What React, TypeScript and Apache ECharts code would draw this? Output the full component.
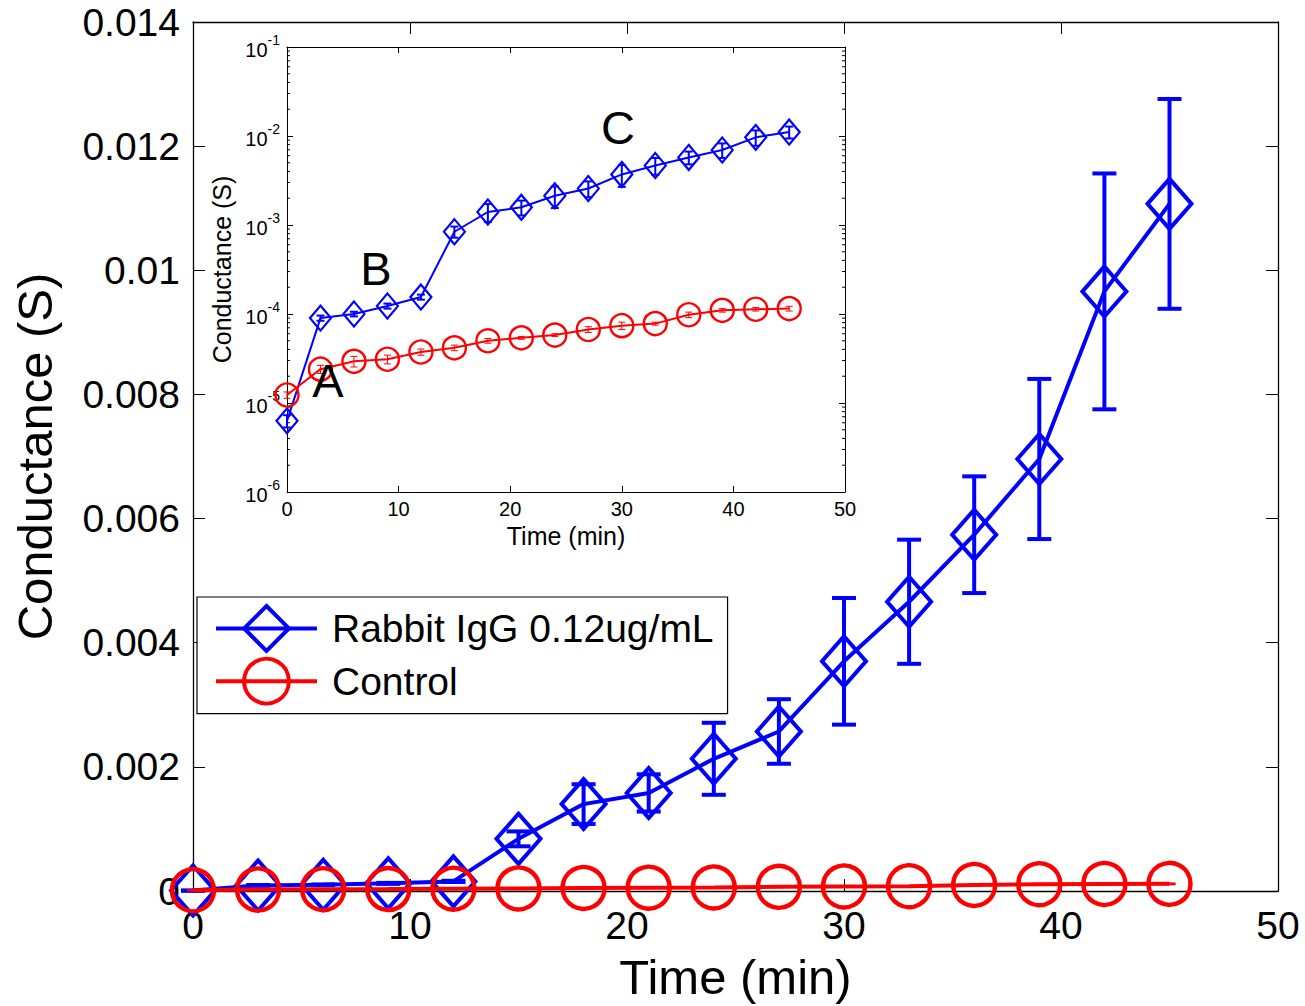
import React, { useEffect, useRef } from "react";
import * as echarts from "echarts";

const FONT = "'Liberation Sans', Arial, Helvetica, sans-serif";

// time points (min)
const times = [0, 3, 6, 9, 12, 15, 18, 21, 24, 27, 30, 33, 36, 39, 42, 45];
// Rabbit IgG 0.12ug/mL conductance (S) and error
const igg = [0.0000063, 0.00009, 0.0001, 0.000123, 0.000155, 0.00084, 0.0014, 0.00158, 0.00213, 0.00257, 0.0037, 0.00466, 0.00574, 0.00696, 0.00966, 0.01107];
const iggErr = [0.000001, 0.000006, 0.000006, 0.000008, 0.00001, 0.00012, 0.00032, 0.0003, 0.00058, 0.00052, 0.00102, 0.001, 0.00094, 0.00129, 0.0019, 0.00169];
// Control conductance (S) and error
const control = [0.0000123, 0.000024, 0.0000294, 0.000031, 0.0000374, 0.0000417, 0.00005, 0.000054, 0.000058, 0.000067, 0.000074, 0.000078, 0.000098, 0.00011, 0.000113, 0.000115];
const controlErr = [0.000001, 0.0000025, 0.000004, 0.0000035, 0.000003, 0.000003, 0.000003, 0.000002, 0.000002, 0.000005, 0.000007, 0.000003, 0.000007, 0.000005, 0.000005, 0.000007];

const seriesNames = ["Rabbit IgG 0.12ug/mL", "Control"];
const mainYLabels = ["0", "0.002", "0.004", "0.006", "0.008", "0.01", "0.012", "0.014"];
const mainXLabels = ["0", "10", "20", "30", "40", "50"];
const insetXLabels = ["0", "10", "20", "30", "40", "50"];
const insetYExponents = ["-6", "-5", "-4", "-3", "-2", "-1"];
const insetMinorMultipliers = [2, 3, 4, 5, 6, 7, 8, 9];
const insetDecades = [-6, -5, -4, -3, -2];
const annotations = [
  { text: "A", x: 328, y: 380 },
  { text: "B", x: 376, y: 268 },
  { text: "C", x: 618, y: 127 },
];

const BLUE = "#0000ff";
const RED = "#ff0000";

function errRender(lw: number, capW: number, color: string) {
  return (params: any, api: any) => {
    const x = api.value(0);
    const y = api.value(1);
    const e = api.value(2);
    const lo = api.coord([x, y - e]);
    const hi = api.coord([x, y + e]);
    const st = { stroke: color, lineWidth: lw };
    return {
      type: "group",
      children: [
        { type: "line", shape: { x1: lo[0], y1: lo[1], x2: hi[0], y2: hi[1] }, style: st },
        { type: "line", shape: { x1: lo[0] - capW / 2, y1: lo[1], x2: lo[0] + capW / 2, y2: lo[1] }, style: st },
        { type: "line", shape: { x1: hi[0] - capW / 2, y1: hi[1], x2: hi[0] + capW / 2, y2: hi[1] }, style: st },
      ],
    };
  };
}

export default function App() {
  const ref = useRef<HTMLDivElement>(null);
  useEffect(() => {
    document.body.style.margin = "0";
    if (!ref.current) return;
    const chart = echarts.init(ref.current, null, { renderer: "svg" });

    const iggData = times.map((t, i) => [t, igg[i]]);
    const ctrlData = times.map((t, i) => [t, control[i]]);
    const iggErrData = times.map((t, i) => [t, igg[i], iggErr[i]]);
    const ctrlErrData = times.map((t, i) => [t, control[i], controlErr[i]]);
    const minorData: number[][] = [];
    insetDecades.forEach((d) => insetMinorMultipliers.forEach((m) => minorData.push([0, m * Math.pow(10, d)])));

    const axisLineBlack = { show: true, onZero: false, lineStyle: { color: "#000", width: 1.3 } };

    const mainX = {
      type: "value", gridIndex: 0, min: 0, max: 50, interval: 10,
      axisLine: axisLineBlack,
      axisTick: { show: true, inside: true, length: 12, lineStyle: { color: "#000", width: 1 } },
      splitLine: { show: false },
      axisLabel: { fontSize: 39, fontFamily: FONT, color: "#000", margin: 15, formatter: (v: number) => mainXLabels[Math.round(v / 10)] },
      name: "Time (min)", nameLocation: "middle", nameGap: 61,
      nameTextStyle: { fontSize: 49, fontFamily: FONT, color: "#000" },
    };
    const mainXTop = {
      type: "value", gridIndex: 0, min: 0, max: 50, interval: 10, position: "top",
      axisLine: axisLineBlack,
      axisTick: { show: true, inside: true, length: 12, lineStyle: { color: "#000", width: 1 } },
      splitLine: { show: false }, axisLabel: { show: false },
    };
    const mainY = {
      type: "value", gridIndex: 0, min: 0, max: 0.014, interval: 0.002,
      axisLine: axisLineBlack,
      axisTick: { show: true, inside: true, length: 12, lineStyle: { color: "#000", width: 1 } },
      splitLine: { show: false },
      axisLabel: { fontSize: 39, fontFamily: FONT, color: "#000", margin: 13, formatter: (v: number) => mainYLabels[Math.round(v / 0.002)] },
      name: "Conductance (S)", nameLocation: "middle", nameGap: 134,
      nameTextStyle: { fontSize: 49, fontFamily: FONT, color: "#000" },
    };
    const mainYRight = {
      type: "value", gridIndex: 0, min: 0, max: 0.014, interval: 0.002, position: "right",
      axisLine: axisLineBlack,
      axisTick: { show: true, inside: true, length: 12, lineStyle: { color: "#000", width: 1 } },
      splitLine: { show: false }, axisLabel: { show: false },
    };

    const insetX = {
      type: "value", gridIndex: 1, min: 0, max: 50, interval: 10, z: 20,
      axisLine: { show: true, onZero: false, lineStyle: { color: "#000", width: 1 } },
      axisTick: { show: true, inside: true, length: 6, lineStyle: { color: "#000" } },
      splitLine: { show: false },
      axisLabel: { fontSize: 20, fontFamily: FONT, color: "#000", margin: 7, formatter: (v: number) => insetXLabels[Math.round(v / 10)] },
      name: "Time (min)", nameLocation: "middle", nameGap: 31,
      nameTextStyle: { fontSize: 25, fontFamily: FONT, color: "#000" },
    };
    const insetXTop = {
      type: "value", gridIndex: 1, min: 0, max: 50, interval: 10, position: "top", z: 20,
      axisLine: { show: true, onZero: false, lineStyle: { color: "#000", width: 1 } },
      axisTick: { show: true, inside: true, length: 6, lineStyle: { color: "#000" } },
      splitLine: { show: false }, axisLabel: { show: false },
    };
    const insetY = {
      type: "log", logBase: 10, gridIndex: 1, min: 1e-6, max: 1e-1, z: 20,
      axisLine: { show: true, onZero: false, lineStyle: { color: "#000", width: 1 } },
      axisTick: { show: true, inside: true, length: 6, lineStyle: { color: "#000" } },
      splitLine: { show: false },
      axisLabel: {
        margin: 7, fontFamily: FONT, color: "#000",
        formatter: (v: number) => {
          const e = Math.round(Math.log10(v));
          const s = insetYExponents[e + 6];
          return "{b|10}{s|" + s + "}";
        },
        rich: {
          b: { fontSize: 20, fontFamily: FONT, color: "#000", padding: [6, 0, 0, 0] },
          s: { fontSize: 14, fontFamily: FONT, color: "#000", padding: [0, 0, 14, 0] },
        },
      },
      name: "Conductance (S)", nameLocation: "middle", nameGap: 53,
      nameTextStyle: { fontSize: 25, fontFamily: FONT, color: "#000" },
    };
    const insetYRight = {
      type: "log", logBase: 10, gridIndex: 1, min: 1e-6, max: 1e-1, position: "right", z: 20,
      axisLine: { show: true, onZero: false, lineStyle: { color: "#000", width: 1 } },
      axisTick: { show: true, inside: true, length: 6, lineStyle: { color: "#000" } },
      splitLine: { show: false }, axisLabel: { show: false },
    };

    const option: any = {
      animation: false,
      backgroundColor: "#fff",
      textStyle: { fontFamily: FONT },
      grid: [
        { left: 193, top: 22, width: 1085, height: 871, show: false },
        { left: 287, top: 47, width: 558, height: 445, show: true, backgroundColor: "#fff", borderColor: "#000", borderWidth: 0, z: 10 },
      ],
      xAxis: [mainX, mainXTop, insetX, insetXTop],
      yAxis: [mainY, mainYRight, insetY, insetYRight],
      legend: {
        data: seriesNames,
        orient: "vertical",
        left: 197, top: 597,
        z: 30,
        backgroundColor: "#fff",
        borderColor: "#000", borderWidth: 1.2,
        padding: [7, 14, 8, 17],
        itemWidth: 101, itemHeight: 56, itemGap: 4,
        lineStyle: { width: 4 },
        itemStyle: { borderWidth: 4 },
        textStyle: { fontSize: 39, fontFamily: FONT, color: "#000", padding: [0, 0, 0, 10] },
      },
      series: [
        { type: "custom", name: "iggErrMain", xAxisIndex: 0, yAxisIndex: 0, z: 2, data: iggErrData, encode: { x: 0, y: 1 }, renderItem: errRender(4, 24, BLUE), silent: true },
        {
          type: "line", name: seriesNames[0], xAxisIndex: 0, yAxisIndex: 0, z: 3, data: iggData,
          color: BLUE,
          lineStyle: { color: BLUE, width: 4 },
          symbol: "diamond", symbolSize: [44, 50],
          itemStyle: { color: "rgba(255,255,255,0)", borderColor: BLUE, borderWidth: 4 },
        },
        { type: "custom", name: "ctrlErrMain", xAxisIndex: 0, yAxisIndex: 0, z: 4, data: ctrlErrData, encode: { x: 0, y: 1 }, renderItem: errRender(2, 12, RED), silent: true },
        {
          type: "line", name: seriesNames[1], xAxisIndex: 0, yAxisIndex: 0, z: 5, data: ctrlData,
          color: RED,
          lineStyle: { color: RED, width: 4 },
          symbol: "circle", symbolSize: 42,
          itemStyle: { color: "rgba(255,255,255,0)", borderColor: RED, borderWidth: 4.5 },
        },
        // inset
        { type: "custom", name: "minorTicks", xAxisIndex: 2, yAxisIndex: 2, z: 21, data: minorData, encode: { x: 0, y: 1 }, silent: true,
          renderItem: (params: any, api: any) => {
            const v = api.value(1);
            const l = api.coord([0, v]);
            const r = api.coord([50, v]);
            const st = { stroke: "#000", lineWidth: 1 };
            return { type: "group", children: [
              { type: "line", shape: { x1: l[0], y1: l[1], x2: l[0] + 3, y2: l[1] }, style: st },
              { type: "line", shape: { x1: r[0] - 3, y1: r[1], x2: r[0], y2: r[1] }, style: st },
            ] };
          } },
        { type: "custom", name: "iggErrInset", xAxisIndex: 2, yAxisIndex: 2, z: 22, data: iggErrData, encode: { x: 0, y: 1 }, renderItem: errRender(2, 8, BLUE), silent: true },
        {
          type: "line", name: "Rabbit IgG inset", xAxisIndex: 2, yAxisIndex: 2, z: 23, data: iggData,
          lineStyle: { color: BLUE, width: 2 },
          symbol: "diamond", symbolSize: [21, 25],
          itemStyle: { color: "rgba(255,255,255,0)", borderColor: BLUE, borderWidth: 2.2 },
        },
        { type: "custom", name: "ctrlErrInset", xAxisIndex: 2, yAxisIndex: 2, z: 24, data: ctrlErrData, encode: { x: 0, y: 1 }, renderItem: errRender(1, 7, RED), silent: true },
        {
          type: "line", name: "Control inset", xAxisIndex: 2, yAxisIndex: 2, z: 25, data: ctrlData,
          lineStyle: { color: RED, width: 2 },
          symbol: "circle", symbolSize: 23,
          itemStyle: { color: "rgba(255,255,255,0)", borderColor: RED, borderWidth: 2.4 },
        },
      ],
      graphic: annotations.map((a) => ({
        type: "text", x: a.x, y: a.y, z: 40,
        style: { text: a.text, fontSize: 47, fontFamily: FONT, fill: "#000", align: "center", verticalAlign: "middle" },
      })),
    };
    chart.setOption(option);
    return () => chart.dispose();
  }, []);
  return <div ref={ref} style={{ width: 1305, height: 1006 }} />;
}
